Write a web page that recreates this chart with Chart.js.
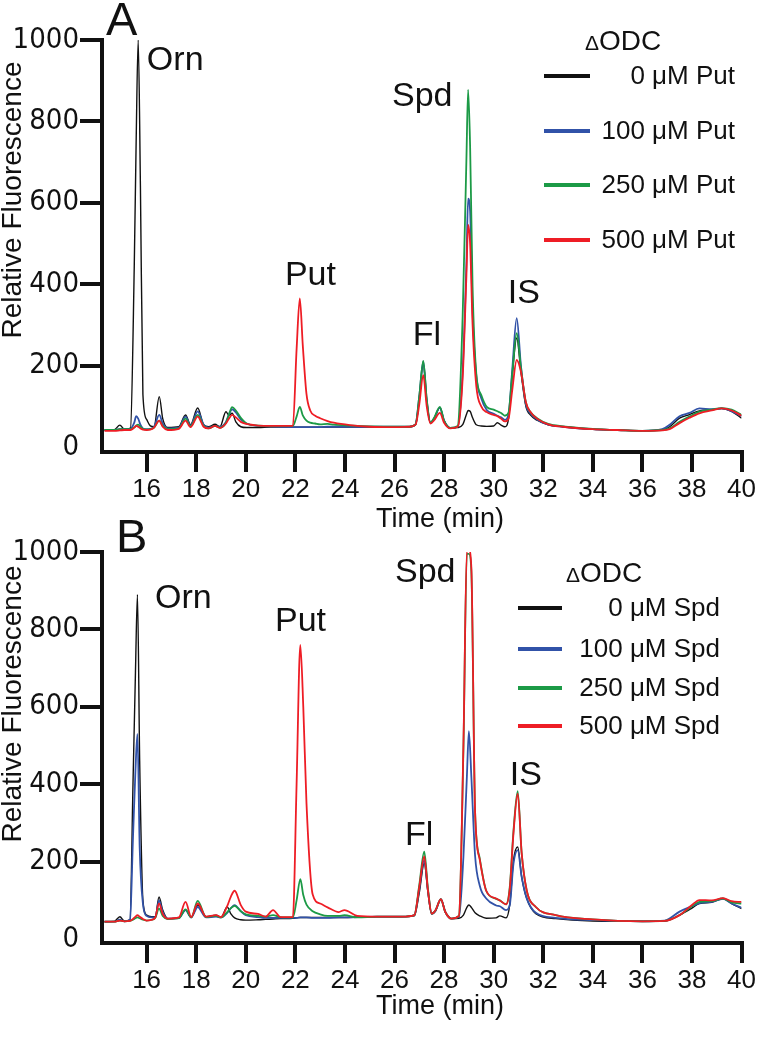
<!DOCTYPE html>
<html>
<head>
<meta charset="utf-8">
<script src="https://cdn.jsdelivr.net/npm/chart.js@4.4.1/dist/chart.umd.min.js"></script>
<style>
  html, body { margin: 0; padding: 0; background: #fff; }
  .panel { position: absolute; left: 0; width: 758px; }
</style>
</head>
<body>
<div class="panel" style="top:0;height:540px"><canvas id="chartA" width="758" height="540"></canvas></div>
<div class="panel" style="top:490px;height:560px"><canvas id="chartB" width="758" height="560"></canvas></div>
<script>
// ---- panel A: dODC + putrescine ----
const timeA = [14.3, 14.7, 14.92, 15.1, 15.35, 15.5, 15.58, 15.66, 15.75, 15.85,
  16.0, 16.15, 16.3, 16.51, 16.65, 16.85, 17.3, 17.57, 17.77, 18.06,
  18.3, 18.5, 18.76, 18.96, 19.2, 19.32, 19.45, 19.6, 19.8, 20.03,
  20.5, 21.0, 21.5, 21.9, 22.05, 22.18, 22.3, 22.45, 22.6, 22.8,
  23.0, 23.3, 23.55, 24.2, 25.0, 26.0, 26.6, 26.85, 27.0, 27.16,
  27.3, 27.45, 27.6, 27.83, 28.0, 28.25, 28.55, 28.75, 28.9, 28.97,
  29.05, 29.15, 29.3, 29.5, 29.72, 30.0, 30.15, 30.3, 30.45, 30.6,
  30.75, 30.93, 31.1, 31.3, 31.5, 31.75, 32.2, 32.8, 34.0, 35.0,
  36.0, 36.8, 37.1, 37.5, 37.9, 38.3, 38.8, 39.2, 39.6, 40.0];
const put0 = [42, 43, 54, 44, 47, 440, 760, 1000, 640, 130,
  68, 52, 50, 124, 70, 48, 50, 79, 55, 96,
  55, 50, 56, 50, 87, 78, 83, 62, 50, 48,
  48, 49, 49, 49, 49, 49, 49, 49, 49, 49,
  49, 49, 49, 49, 49, 50, 50, 56, 120, 205,
  115, 60, 70, 97, 65, 47, 48, 55, 80, 90,
  88, 72, 55, 52, 51, 52, 60, 54, 50, 70,
  175, 268, 185, 100, 78, 66, 55, 50, 44, 42,
  40, 42, 50, 71, 80, 89, 92, 95, 88, 71];
const put100 = [42, 42, 44, 44, 45, 60, 76, 70, 55, 46,
  44, 45, 50, 79, 58, 46, 48, 75, 53, 88,
  55, 48, 52, 50, 62, 80, 93, 85, 68, 58,
  52, 51, 50, 49, 49, 49, 49, 49, 49, 49,
  49, 50, 50, 50, 50, 50, 50, 56, 125, 210,
  115, 60, 70, 97, 65, 47, 50, 187, 449, 610,
  580, 330, 175, 120, 91, 82, 77, 73, 67, 80,
  190, 317, 200, 105, 82, 68, 55, 50, 44, 42,
  40, 44, 55, 76, 84, 95, 93, 95, 88, 76];
const put250 = [42, 42, 44, 44, 44, 48, 53, 55, 50, 45,
  43, 44, 48, 65, 52, 44, 46, 70, 51, 79,
  52, 46, 52, 48, 60, 80, 98, 90, 72, 58,
  53, 52, 52, 52, 75, 99, 78, 65, 60, 58,
  56, 57, 55, 53, 51, 50, 50, 56, 125, 212,
  118, 60, 72, 99, 65, 47, 52, 323, 704, 878,
  740, 393, 180, 128, 99, 92, 88, 84, 77, 85,
  180, 280, 195, 110, 85, 71, 57, 51, 45, 42,
  40, 42, 46, 62, 75, 87, 92, 96, 92, 79];
const put500 = [40, 40, 41, 42, 42, 48, 52, 50, 46, 43,
  42, 43, 48, 65, 50, 42, 45, 65, 49, 75,
  50, 46, 52, 47, 58, 70, 79, 73, 62, 57,
  53, 52, 52, 52, 240, 365, 250, 130, 90, 77,
  71, 64, 60, 54, 50, 49, 50, 55, 105, 177,
  100, 58, 66, 84, 60, 46, 50, 170, 420, 546,
  500, 300, 150, 100, 86, 79, 76, 70, 63, 70,
  140, 214, 185, 110, 85, 70, 56, 50, 44, 42,
  40, 41, 44, 59, 72, 83, 90, 95, 90, 77];

// ---- panel B: dODC + spermidine ----
const timeB = [14.3, 14.7, 14.92, 15.1, 15.33, 15.45, 15.55, 15.63, 15.72, 15.85,
  16.0, 16.2, 16.35, 16.5, 16.65, 16.85, 17.3, 17.57, 17.8, 18.06,
  18.4, 18.8, 19.0, 19.25, 19.4, 19.55, 19.8, 20.0, 20.5, 20.8,
  21.1, 21.4, 21.9, 22.05, 22.2, 22.32, 22.45, 22.7, 23.0, 23.3,
  23.75, 23.98, 24.5, 25.3, 26.3, 26.8, 27.0, 27.2, 27.35, 27.5,
  27.65, 27.87, 28.05, 28.3, 28.6, 28.78, 28.92, 29.0, 29.1, 29.25,
  29.44, 29.7, 30.1, 30.25, 30.5, 30.65, 30.8, 30.97, 31.13, 31.33,
  31.7, 32.5, 34.0, 36.0, 36.9, 37.5, 38.0, 38.3, 38.8, 39.25,
  39.6, 40.0];
const spd0 = [45, 46, 58, 47, 50, 400, 690, 890, 460, 100,
  62, 58, 58, 109, 75, 53, 55, 75, 56, 88,
  58, 62, 56, 83, 65, 55, 50, 49, 50, 51,
  52, 53, 54, 55, 56, 56, 56, 56, 56, 56,
  56, 56, 57, 58, 58, 60, 120, 196, 120, 65,
  72, 103, 70, 53, 54, 62, 82, 88, 82, 68,
  60, 54, 55, 60, 55, 90, 204, 238, 161, 106,
  66, 53, 47, 46, 47, 62, 80, 92, 95, 105,
  92, 79];
const spd100 = [45, 45, 50, 46, 50, 262, 437, 530, 237, 92,
  60, 56, 56, 100, 70, 53, 54, 75, 56, 83,
  56, 58, 56, 68, 80, 88, 72, 62, 57, 55,
  55, 55, 55, 55, 56, 56, 56, 55, 55, 55,
  56, 56, 57, 58, 58, 62, 130, 204, 125, 66,
  73, 103, 70, 53, 58, 212, 420, 537, 420, 216,
  138, 105, 87, 85, 75, 88, 195, 230, 161, 106,
  68, 55, 49, 46, 48, 71, 85, 93, 96, 104,
  92, 81];
const spd250 = [45, 45, 48, 46, 47, 50, 54, 56, 54, 50,
  48, 50, 55, 79, 60, 52, 54, 77, 56, 99,
  57, 60, 56, 70, 80, 86, 72, 64, 60, 58,
  62, 57, 56, 100, 155, 114, 89, 72, 64, 60,
  60, 62, 56, 58, 58, 62, 140, 226, 130, 66,
  74, 103, 70, 53, 60, 490, 995, 995, 950, 330,
  208, 125, 104, 100, 90, 135, 280, 382, 222, 127,
  83, 62, 51, 46, 47, 62, 85, 96, 98, 105,
  95, 92];
const spd500 = [45, 45, 48, 46, 47, 52, 58, 62, 58, 52,
  48, 50, 56, 92, 65, 53, 56, 96, 57, 92,
  58, 62, 57, 85, 110, 125, 88, 71, 65, 58,
  75, 57, 57, 400, 760, 600, 350, 115, 92, 82,
  70, 75, 60, 58, 58, 62, 135, 214, 125, 66,
  74, 103, 70, 53, 60, 500, 1005, 1005, 960, 330,
  205, 125, 105, 100, 90, 130, 274, 376, 222, 127,
  83, 62, 51, 46, 47, 62, 88, 101, 100, 106,
  98, 96];

const xTicks = [16, 18, 20, 22, 24, 26, 28, 30, 32, 34, 36, 38, 40];
const yTicks = [0, 200, 400, 600, 800, 1000];
const labelsA = ['0 μM Put', '100 μM Put', '250 μM Put', '500 μM Put'];
const labelsB = ['0 μM Spd', '100 μM Spd', '250 μM Spd', '500 μM Spd'];
const colors = ['#111111', '#3152a8', '#1c9a46', '#ee1d25'];

const SANS = '"Liberation Sans", Arial, sans-serif';
const NARROW = '"Liberation Sans Narrow", "DejaVu Sans Condensed", "Liberation Sans", sans-serif';

function pairs(time, vals) {
  return vals.map((v, i) => ({ x: time[i], y: v }));
}

// text drawn on top of the plot: letter, peak names, axis titles, legend
const annotate = {
  id: 'annotate',
  afterDraw(chart, args, o) {
    const ctx = chart.ctx;
    const xs = chart.scales.x, ys = chart.scales.y;
    ctx.save();
    ctx.fillStyle = '#111';
    ctx.textBaseline = 'alphabetic';
    ctx.textAlign = 'left';
    ctx.font = '47px ' + SANS;
    ctx.fillText(o.letter, o.letterX, o.letterY);

    ctx.font = '34px ' + SANS;
    o.peaks.forEach(p => ctx.fillText(p.text, xs.getPixelForValue(p.t), ys.getPixelForValue(p.v)));

    // axis titles
    ctx.font = '27px ' + SANS;
    ctx.textAlign = 'center';
    ctx.textBaseline = 'middle';
    ctx.fillText('Time (min)', o.xTitleX, o.xTitleY);
    ctx.save();
    ctx.translate(o.yTitleX, o.yTitleY);
    ctx.rotate(-Math.PI / 2);
    ctx.font = '28px ' + SANS;
    ctx.fillText('Relative Fluorescence', 0, 0);
    ctx.restore();

    // legend header: small delta, then ODC
    ctx.textAlign = 'left';
    ctx.textBaseline = 'alphabetic';
    ctx.font = '28px ' + SANS;
    const wOdc = ctx.measureText('ODC').width;
    ctx.font = '21px ' + SANS;
    const wDelta = ctx.measureText('\u0394').width;
    const x0 = o.legHeadX - (wOdc + wDelta) / 2;
    ctx.fillText('\u0394', x0, o.legHeadY + 10);
    ctx.font = '28px ' + SANS;
    ctx.fillText('ODC', x0 + wDelta, o.legHeadY + 10);

    ctx.textAlign = 'right';
    ctx.textBaseline = 'middle';
    ctx.font = '26px ' + SANS;
    chart.data.datasets.forEach((ds, i) => {
      const y = o.legRows[i];
      ctx.strokeStyle = ds.borderColor;
      ctx.lineWidth = 4;
      ctx.beginPath();
      ctx.moveTo(o.legX0, y);
      ctx.lineTo(o.legX1, y);
      ctx.stroke();
      ctx.fillText(ds.label, o.legTextRight, y + 1);
    });
    ctx.restore();
  }
};

function makeChart(id, time, series, labels, yMin, pad, xHeight, ann) {
  const datasets = series.map((vals, i) => ({
    label: labels[i],
    data: pairs(time, vals),
    borderColor: colors[i],
    borderWidth: i === 0 ? 1.4 : 1.8,
    pointRadius: 0,
    cubicInterpolationMode: 'monotone',
    order: 3 - i
  }));
  return new Chart(document.getElementById(id), {
    type: 'line',
    data: { datasets },
    options: {
      responsive: false,
      animation: false,
      layout: { padding: pad },
      plugins: { legend: { display: false }, tooltip: { enabled: false }, annotate: ann },
      scales: {
        x: {
          type: 'linear', min: 14.2, max: 40,
          afterBuildTicks: s => { s.ticks = xTicks.map(v => ({ value: v })); },
          afterFit: s => { s.height = xHeight; },
          grid: { drawOnChartArea: false, drawTicks: true, tickLength: 20, tickWidth: 4, lineWidth: 4, tickColor: '#111' },
          border: { display: true, width: 4, color: '#111' },
          ticks: { color: '#111', padding: 2, maxRotation: 0, autoSkip: false, font: { family: SANS, size: 26 } }
        },
        y: {
          type: 'linear', min: yMin, max: 1000,
          afterBuildTicks: s => { s.ticks = yTicks.map(v => ({ value: v })); },
          afterFit: s => { s.width = 102; },
          grid: {
            drawOnChartArea: false, drawTicks: true, tickLength: 22, lineWidth: 4,
            tickWidth: 4,
            tickColor: c => (c.tick && c.tick.value === 0 ? 'rgba(0,0,0,0)' : '#111')
          },
          border: { display: true, width: 4, color: '#111' },
          ticks: { color: '#111', padding: 1, font: { family: NARROW, size: 29 }, callback: v => String(v) }
        }
      }
    },
    plugins: [annotate]
  });
}

makeChart('chartA', timeA, [put0, put100, put250, put500], labelsA, -12,
  { left: 0, top: 40, right: 16, bottom: 0 }, 88, {
    letter: 'A', letterX: 106, letterY: 35,
    peaks: [
      { text: 'Orn', t: 16.01, v: 927 },
      { text: 'Put', t: 21.58, v: 398 },
      { text: 'Spd', t: 25.9, v: 839 },
      { text: 'Fl', t: 26.74, v: 251 },
      { text: 'IS', t: 30.57, v: 354 }
    ],
    xTitleX: 440, xTitleY: 520, yTitleX: 13, yTitleY: 200,
    legHeadX: 623, legHeadY: 40, legRows: [76, 131, 185, 240],
    legX0: 544, legX1: 590, legTextRight: 735
  });

makeChart('chartB', timeB, [spd0, spd100, spd250, spd500], labelsB, -10,
  { left: 0, top: 62, right: 16, bottom: 0 }, 107, {
    letter: 'B', letterX: 116, letterY: 62,
    peaks: [
      { text: 'Orn', t: 16.34, v: 855 },
      { text: 'Put', t: 21.18, v: 796 },
      { text: 'Spd', t: 26.02, v: 922 },
      { text: 'Fl', t: 26.42, v: 243 },
      { text: 'IS', t: 30.65, v: 398 }
    ],
    xTitleX: 440, xTitleY: 517, yTitleX: 13, yTitleY: 214,
    legHeadX: 604, legHeadY: 82, legRows: [118, 159, 198, 236],
    legX0: 518, legX1: 562, legTextRight: 720
  });
</script>
</body>
</html>
